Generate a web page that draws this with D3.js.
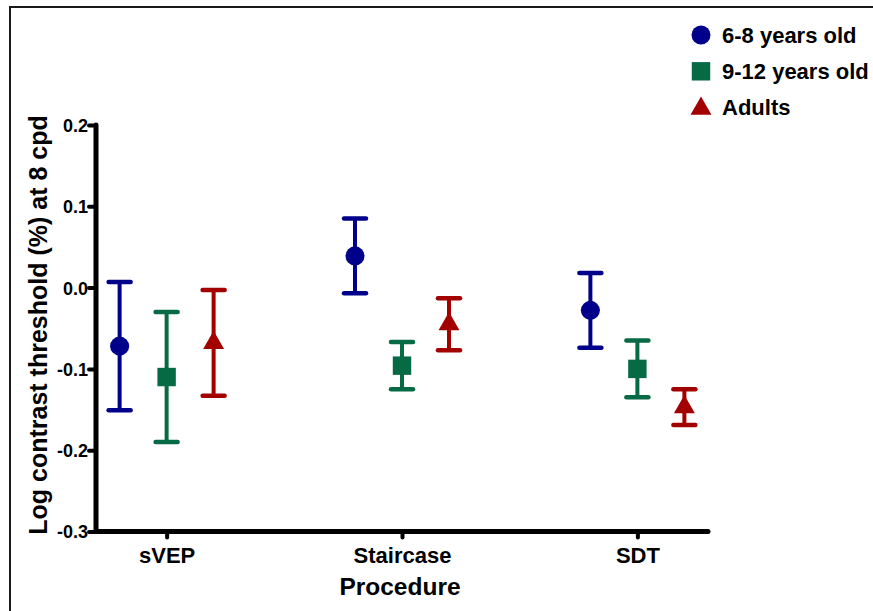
<!DOCTYPE html>
<html>
<head>
<meta charset="utf-8">
<script src="https://cdn.jsdelivr.net/npm/d3@7"></script>
<style>
  html, body { margin: 0; padding: 0; background: #fff; }
  svg { display: block; }
  text { font-family: Arial, "Liberation Sans", Helvetica, sans-serif; font-weight: bold; fill: #000; }
</style>
</head>
<body>
<svg id="chart" width="873" height="611"></svg>
<script>
// Procedures on the x axis and age groups plotted within each procedure
const procedures = ["sVEP", "Staircase", "SDT"];
const groups = ["6-8 years old", "9-12 years old", "Adults"];

// Mean log contrast threshold per group, one entry per procedure
const means68 = [-0.072, 0.039, -0.028];
const means912 = [-0.110, -0.096, -0.100];
const meansAdults = [-0.068, -0.045, -0.147];

// Error (± half-range of each bar), one entry per procedure
const err68 = [0.079, 0.046, 0.046];
const err912 = [0.080, 0.029, 0.035];
const errAdults = [0.065, 0.032, 0.022];

const yTickValues = [-0.3, -0.2, -0.1, 0.0, 0.1, 0.2];

const colors = ["#00008b", "#066a44", "#a30000"];
const shapes = [d3.symbolCircle, d3.symbolSquare, d3.symbolTriangle];
const symbolSizes = [285, 340, 190];

const series = [
  { name: groups[0], means: means68, errs: err68 },
  { name: groups[1], means: means912, errs: err912 },
  { name: groups[2], means: meansAdults, errs: errAdults }
];

const svg = d3.select("#chart");

// Outer frame
svg.append("rect")
  .attr("x", 10).attr("y", 7)
  .attr("width", 880).attr("height", 620)
  .attr("fill", "none")
  .attr("stroke", "#1a1a1a")
  .attr("stroke-width", 2);

const x = d3.scalePoint().domain(procedures).range([96, 708]).padding(0.3);
const xOffset = d3.scalePoint().domain(groups).range([-47, 47]);
const y = d3.scaleLinear().domain([-0.3, 0.2]).range([531.5, 125]);

// Y axis
const yAxis = svg.append("g")
  .attr("transform", "translate(96,0)")
  .call(d3.axisLeft(y).tickValues(yTickValues).tickSize(7).tickPadding(1)
    .tickFormat(d => d.toFixed(1)));
yAxis.select(".domain")
  .attr("d", `M0,${y(0.2)}V${y(-0.3)}`)
  .style("stroke", "#000").style("stroke-width", "5px").style("stroke-linecap", "round");
yAxis.selectAll(".tick line")
  .style("stroke", "#000").style("stroke-width", "4px").style("stroke-linecap", "round");
yAxis.selectAll(".tick text")
  .attr("font-size", 18).attr("font-weight", "bold")
  .attr("font-family", "Arial, 'Liberation Sans', sans-serif")
  .attr("dy", "0.36em")
  .attr("fill", "#000");

// X axis
const xAxis = svg.append("g")
  .attr("transform", `translate(0,${y(-0.3)})`)
  .call(d3.axisBottom(x).tickSize(6).tickPadding(10));
xAxis.select(".domain")
  .attr("d", "M96,0H708")
  .style("stroke", "#000").style("stroke-width", "5px").style("stroke-linecap", "round");
xAxis.selectAll(".tick line")
  .style("stroke", "#000").style("stroke-width", "4px").style("stroke-linecap", "round");
xAxis.selectAll(".tick text")
  .attr("font-size", 22).attr("font-weight", "bold")
  .attr("font-family", "Arial, 'Liberation Sans', sans-serif")
  .attr("fill", "#000");

// Axis titles
svg.append("text")
  .attr("x", 400).attr("y", 595)
  .attr("text-anchor", "middle")
  .attr("font-size", 24.5)
  .text("Procedure");

svg.append("text")
  .attr("transform", "translate(47,325) rotate(-90)")
  .attr("text-anchor", "middle")
  .attr("font-size", 25)
  .text("Log contrast threshold (%) at 8 cpd");

// Error bars and markers
const capHalf = 11;
series.forEach((s, i) => {
  const g = svg.append("g").attr("class", "series");
  const pts = procedures.map((p, j) => ({
    cx: x(p) + xOffset(s.name),
    m: s.means[j],
    lo: s.means[j] - s.errs[j],
    hi: s.means[j] + s.errs[j]
  }));
  g.selectAll("line.stem").data(pts).join("line")
    .attr("class", "stem")
    .attr("x1", d => d.cx).attr("x2", d => d.cx)
    .attr("y1", d => y(d.hi)).attr("y2", d => y(d.lo))
    .attr("stroke", colors[i]).attr("stroke-width", 4);
  g.selectAll("line.capHi").data(pts).join("line")
    .attr("class", "capHi")
    .attr("x1", d => d.cx - capHalf).attr("x2", d => d.cx + capHalf)
    .attr("y1", d => y(d.hi)).attr("y2", d => y(d.hi))
    .attr("stroke", colors[i]).attr("stroke-width", 4.5).attr("stroke-linecap", "round");
  g.selectAll("line.capLo").data(pts).join("line")
    .attr("class", "capLo")
    .attr("x1", d => d.cx - capHalf).attr("x2", d => d.cx + capHalf)
    .attr("y1", d => y(d.lo)).attr("y2", d => y(d.lo))
    .attr("stroke", colors[i]).attr("stroke-width", 4.5).attr("stroke-linecap", "round");
  g.selectAll("path.marker").data(pts).join("path")
    .attr("class", "marker")
    .attr("d", d3.symbol().type(shapes[i]).size(symbolSizes[i]))
    .attr("transform", d => `translate(${d.cx},${y(d.m)})`)
    .attr("fill", colors[i]);
});

// Legend
const legend = svg.append("g").attr("transform", "translate(701,35)");
groups.forEach((name, i) => {
  const row = legend.append("g").attr("transform", `translate(0,${i * 36.3})`);
  row.append("path")
    .attr("d", d3.symbol().type(shapes[i]).size(symbolSizes[i]))
    .attr("transform", i === 2 ? "translate(0,1)" : null)
    .attr("fill", colors[i]);
  row.append("text")
    .attr("x", 21).attr("y", 7.5)
    .attr("font-size", 22)
    .text(name);
});
</script>
</body>
</html>
